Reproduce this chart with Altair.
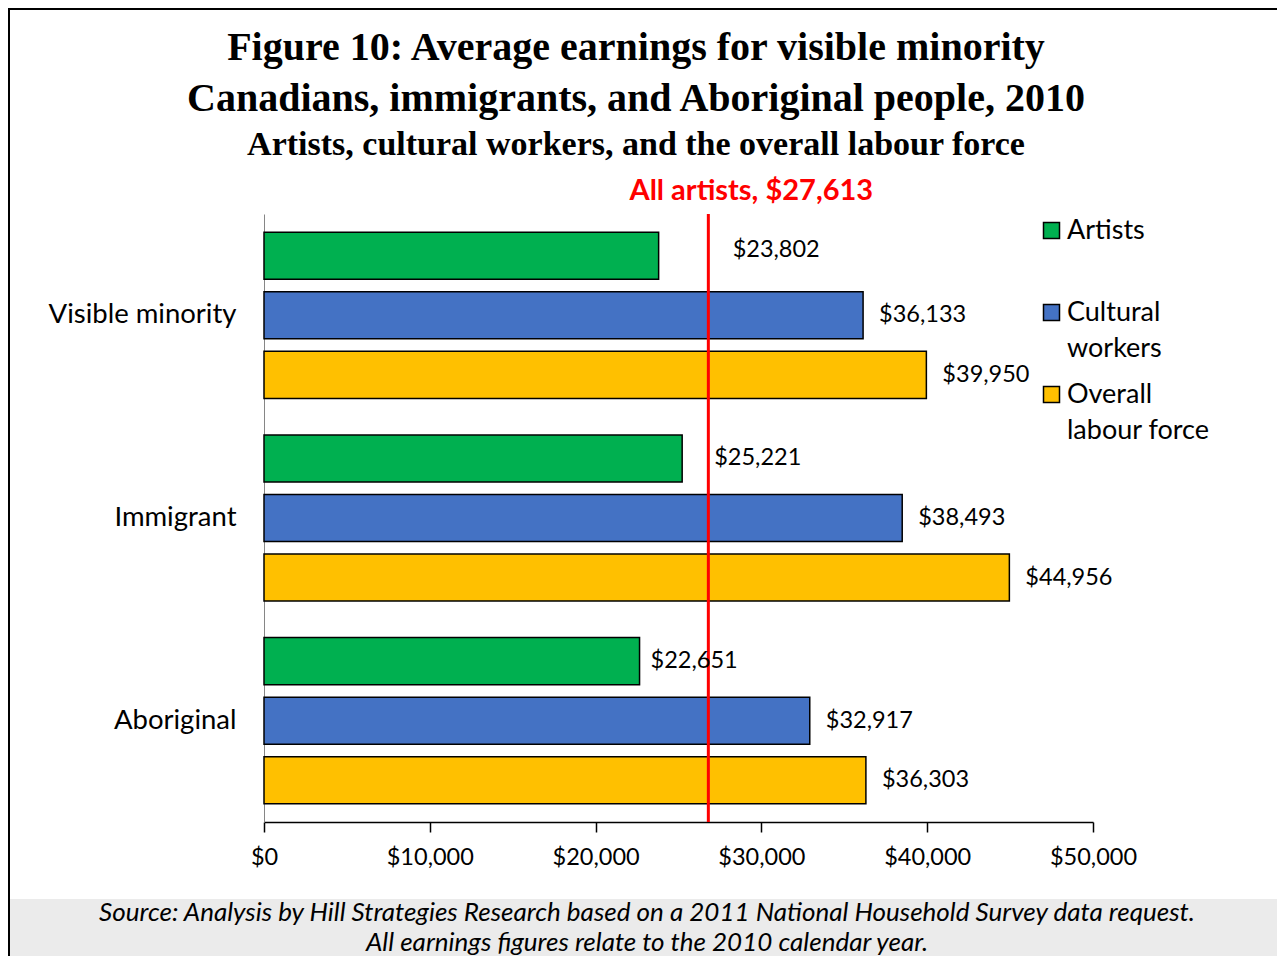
import altair as alt
import pandas as pd

# ---- data ----
groups = ["Visible minority", "Immigrant", "Aboriginal"]
series = ["Artists", "Cultural workers", "Overall labour force"]
artists = [23802, 25221, 22651]
cultural = [36133, 38493, 32917]
overall = [39950, 44956, 36303]
all_artists_position = 26800          # where the red line is drawn in the reference
all_artists_label = "All artists, $27,613"
x_ticks = [0, 10000, 20000, 30000, 40000, 50000]
colors = ["#00B050", "#4472C4", "#FFC000"]

title_lines = ["Figure 10: Average earnings for visible minority",
               "Canadians, immigrants, and Aboriginal people, 2010"]
subtitle = "Artists, cultural workers, and the overall labour force"
source_lines = ["Source: Analysis by Hill Strategies Research based on a 2011 National Household Survey data request.",
                "All earnings figures relate to the 2010 calendar year."]

rows = []
for i, g in enumerate(groups):
    for s, vals in zip(series, [artists, cultural, overall]):
        rows.append({"group": g, "series": s, "value": vals[i]})
df = pd.DataFrame(rows)

FONT = "Lato"
SERIF = "Liberation Serif"
W, H = 829, 608

x_enc = alt.X("value:Q",
              scale=alt.Scale(domain=[0, 50000], nice=False),
              axis=alt.Axis(values=x_ticks, labelExpr="'$' + format(datum.value, ',')",
                            grid=False, tickSize=10, tickColor="black", tickWidth=1.5,
                            domainColor="black", domainWidth=1.5, labelFlush=False,
                            labelFont=FONT, labelFontSize=23.5, labelColor="black",
                            labelPadding=13, title=None))
y_enc = alt.Y("group:N", sort=groups,
              scale=alt.Scale(paddingInner=0.18, paddingOuter=0.09),
              axis=alt.Axis(ticks=False, grid=False, domainColor="#868686", domainWidth=1,
                            labelFont=FONT, labelFontSize=27.5, labelColor="black",
                            labelPadding=28, labelLimit=400, title=None))
yoff_enc = alt.YOffset("series:N", sort=series,
                       scale=alt.Scale(paddingInner=0.21, paddingOuter=0))

base = alt.Chart(df)

bars = base.mark_bar(stroke="black", strokeWidth=1.5).encode(
    x=x_enc, y=y_enc, yOffset=yoff_enc,
    color=alt.Color("series:N", sort=series,
                    scale=alt.Scale(domain=series, range=colors),
                    legend=alt.Legend(title=None, orient="none", legendX=774, legendY=3,
                                      symbolType="square", symbolSize=256,
                                      symbolStrokeColor="black", symbolStrokeWidth=1.5,
                                      labelFont=FONT, labelFontSize=27, labelColor="black",
                                      labelOffset=2, labelLimit=300, padding=0,
                                      rowPadding=18, gridAlign="all",
                                      labelExpr="datum.label == 'Cultural workers' ? ['Cultural', 'workers'] : datum.label == 'Overall labour force' ? ['Overall', 'labour force'] : datum.label"))
)

label_text = alt.Text("label:N")
def value_labels(filter_expr, dx, dy=0):
    return base.transform_calculate(
        label="'$' + format(datum.value, ',')"
    ).transform_filter(filter_expr).mark_text(
        align="left", baseline="middle", dx=dx, dy=dy, font=FONT, fontSize=23.5, color="black"
    ).encode(x="value:Q", y=alt.Y("group:N", sort=groups), yOffset=alt.YOffset("series:N", sort=series), text=label_text)

labels_default = value_labels("datum.series != 'Artists'", 16)
labels_vm = value_labels("datum.series == 'Artists' && datum.group == 'Visible minority'", 74, -6)
labels_im = value_labels("datum.series == 'Artists' && datum.group == 'Immigrant'", 32)
labels_ab = value_labels("datum.series == 'Artists' && datum.group == 'Aboriginal'", 11)

line_df = pd.DataFrame({"value": [all_artists_position], "label": [all_artists_label]})
rule = alt.Chart(line_df).mark_rule(color="#FF0000", strokeWidth=3).encode(
    x="value:Q", y=alt.value(0), y2=alt.value(H))
rule_label = alt.Chart(line_df).mark_text(
    color="#FF0000", font=FONT, fontSize=29, fontWeight="bold", dx=43, baseline="middle"
).encode(x="value:Q", y=alt.value(-23), text="label:N")

deco_df = pd.DataFrame({"source": ["\n".join(source_lines)],
                        "t1": [title_lines[0]], "t2": [title_lines[1]], "sub": [subtitle]})
band = alt.Chart(deco_df).mark_rect(color="#EBEBEB").encode(
    x=alt.value(-255), x2=alt.value(1030), y=alt.value(685), y2=alt.value(760))
frame = alt.Chart(deco_df).mark_rect(filled=False, stroke="black", strokeWidth=2).encode(
    x=alt.value(-255), x2=alt.value(1030), y=alt.value(-205), y2=alt.value(800))
source = alt.Chart(deco_df).mark_text(
    font=FONT, fontSize=26, fontStyle="italic", color="black", lineBreak="\n",
    lineHeight=30, baseline="middle", align="center"
).encode(x=alt.value(383), y=alt.value(699), text="source:N")

def title_line(field, y, size):
    return alt.Chart(deco_df).mark_text(
        font=SERIF, fontSize=size, fontWeight="bold", color="black",
        baseline="middle", align="center"
    ).encode(x=alt.value(372), y=alt.value(y), text=f"{field}:N")

t1 = title_line("t1", -166, 40)
t2 = title_line("t2", -115, 40)
t3 = title_line("sub", -69, 34)

chart = alt.layer(
    band, frame, bars, rule, labels_default, labels_vm, labels_im, labels_ab,
    rule_label, source, t1, t2, t3
).properties(
    width=W, height=H,
    autosize=alt.AutoSizeParams(type="none"),
    padding={"left": 256, "top": 206, "right": 184, "bottom": 134},
).configure_view(strokeWidth=0, stroke="transparent", strokeOpacity=0).configure(
    background="white",
    style={"guide-label": {"lineHeight": 36},
           "cell": {"stroke": "transparent", "strokeWidth": 0}})

chart.save("out.html", embed_options={"renderer": "svg", "actions": False})
